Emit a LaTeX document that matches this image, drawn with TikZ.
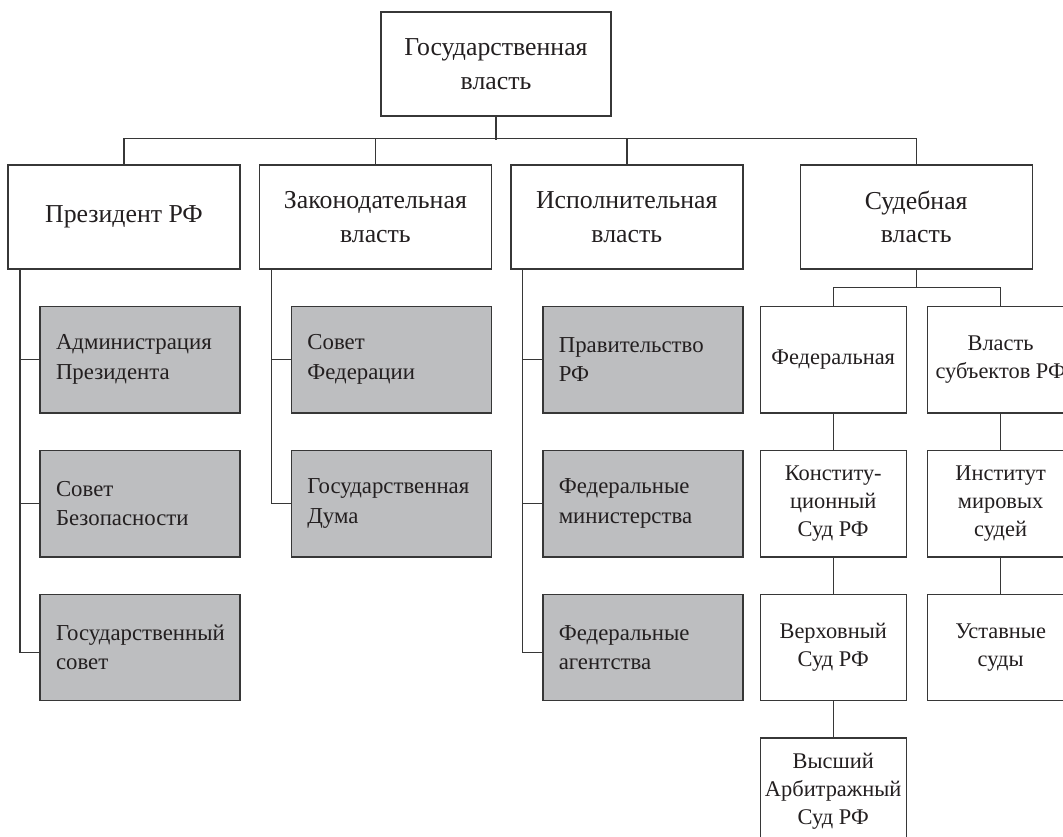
\documentclass[tikz,border=0pt]{standalone}
\usepackage{fontspec}
\setmainfont{Liberation Serif}
\usetikzlibrary{
	positioning
}
\definecolor{boxgray}{RGB}{189,190,192}
\definecolor{linegray}{RGB}{55,55,55}
\definecolor{textdark}{RGB}{35,31,32}

\begin{document}
\begin{tikzpicture}[
			x=0.5pt, y=-0.5pt,
			head/.style={
				draw=linegray,
				line width=0.7pt,
				fill=white,
				text=textdark,
				minimum width=116pt,
				minimum height=52pt,
				align=center,
				font=\fontsize{12.9}{16.8}\selectfont
			},
			sub/.style={
				draw=linegray,
				line width=0.7pt,
				fill=boxgray,
				text=textdark,
				text width=84pt,
				inner xsep=8pt,
				minimum height=53.25pt,
				align=left,
				font=\fontsize{11.4}{14.8}\selectfont
			},
			court/.style={
				draw=linegray,
				line width=0.7pt,
				fill=white,
				text=textdark,
				minimum width=73pt,
				minimum height=53.25pt,
				inner xsep=2pt,
				align=center,
				font=\fontsize{11.2}{14}\selectfont
			},
			link/.style={draw=linegray,line width=0.7pt}
			]
			
			\useasboundingbox (0,0) rectangle (1063,836);
			\clip (0,0) rectangle (1063,836);
			\fill[white] (0,0) rectangle (1063,836);
			
			\node[head,minimum width=115pt] (top) at (496,64)
			{Государственная\\власть};
			
			\node[head] (pres) at (124,217)
			{Президент РФ};
			
			\node[head,right=9pt of pres] (leg)
			{Законодательная\\власть};
			
			\node[head,right=9pt of leg] (exe)
			{Исполнительная\\власть};
			
			\node[head,right=28pt of exe] (jud)
			{Судебная\\власть};
			
			\node[sub,anchor=north west] (adm) at ([xshift=16pt,yshift=-18pt]pres.south west)
			{Администрация\\Президента};
			
			\node[sub,below=18pt of adm] (sbez)
			{Совет\\Безопасности};
			
			\node[sub,below=18pt of sbez] (gsov)
			{Государственный\\совет};
			
			\node[sub,anchor=north west] (sfed) at ([xshift=16pt,yshift=-18pt]leg.south west)
			{Совет\\Федерации};
			
			\node[sub,below=18pt of sfed] (gduma)
			{Государственная\\Дума};
			
			\node[sub,anchor=north west] (prav) at ([xshift=16pt,yshift=-18pt]exe.south west)
			{Правительство\\РФ};
			
			\node[sub,below=18pt of prav] (fmin)
			{Федеральные\\министерства};
			
			\node[sub,below=18pt of fmin] (fag)
			{Федеральные\\агентства};
			
			\node[court,anchor=north west] (fed) at ([xshift=-20pt,yshift=-18pt]jud.south west)
			{Федеральная};
			
			\node[court,right=10pt of fed] (reg)
			{Власть\\субъектов РФ};
			
			\node[court,below=18pt of fed] (ks)
			{Конститу-\\ционный\\Суд РФ};
			
			\node[court,below=18pt of ks] (vs)
			{Верховный\\Суд РФ};
			
			\node[court,below=18pt of vs] (vas)
			{Высший\\Арбитражный\\Суд РФ};
			
			\node[court,below=18pt of reg] (mir)
			{Институт\\мировых\\судей};
			
			\node[court,below=18pt of mir] (ust)
			{Уставные\\суды};
			
			\draw[link] (top.south) -- ++(0,23);
			\draw[link] (pres.north) -- ++(0,-26) -| (jud.north);
			\draw[link] (leg.north) -- ++(0,-26);
			\draw[link] (exe.north) -- ++(0,-26);
			
			\foreach \c in {adm,sbez}
			\draw[link] ([xshift=6.25pt]pres.south west) |- (\c.west);
			\draw[link] ([xshift=6.25pt]pres.south west) |- ([yshift=-2.5pt]gsov.west);
			
			\draw[link] ([xshift=6.25pt]leg.south west) |- (sfed.west);
			\draw[link] ([xshift=6.25pt]leg.south west) |- (gduma.west);
			
			\foreach \c in {prav,fmin}
			\draw[link] ([xshift=6.25pt]exe.south west) |- (\c.west);
			\draw[link] ([xshift=6.25pt]exe.south west) |- ([yshift=-2.5pt]fag.west);
			
			\draw[link] (jud.south) -- ++(0,18) coordinate (jbus);
			\draw[link] (fed.north) |- (jbus) -| (reg.north);
			\draw[link] (fed) -- (ks) -- (vs) -- (vas);
			\draw[link] (reg) -- (mir) -- (ust);
			
		\end{tikzpicture}
\end{document}
